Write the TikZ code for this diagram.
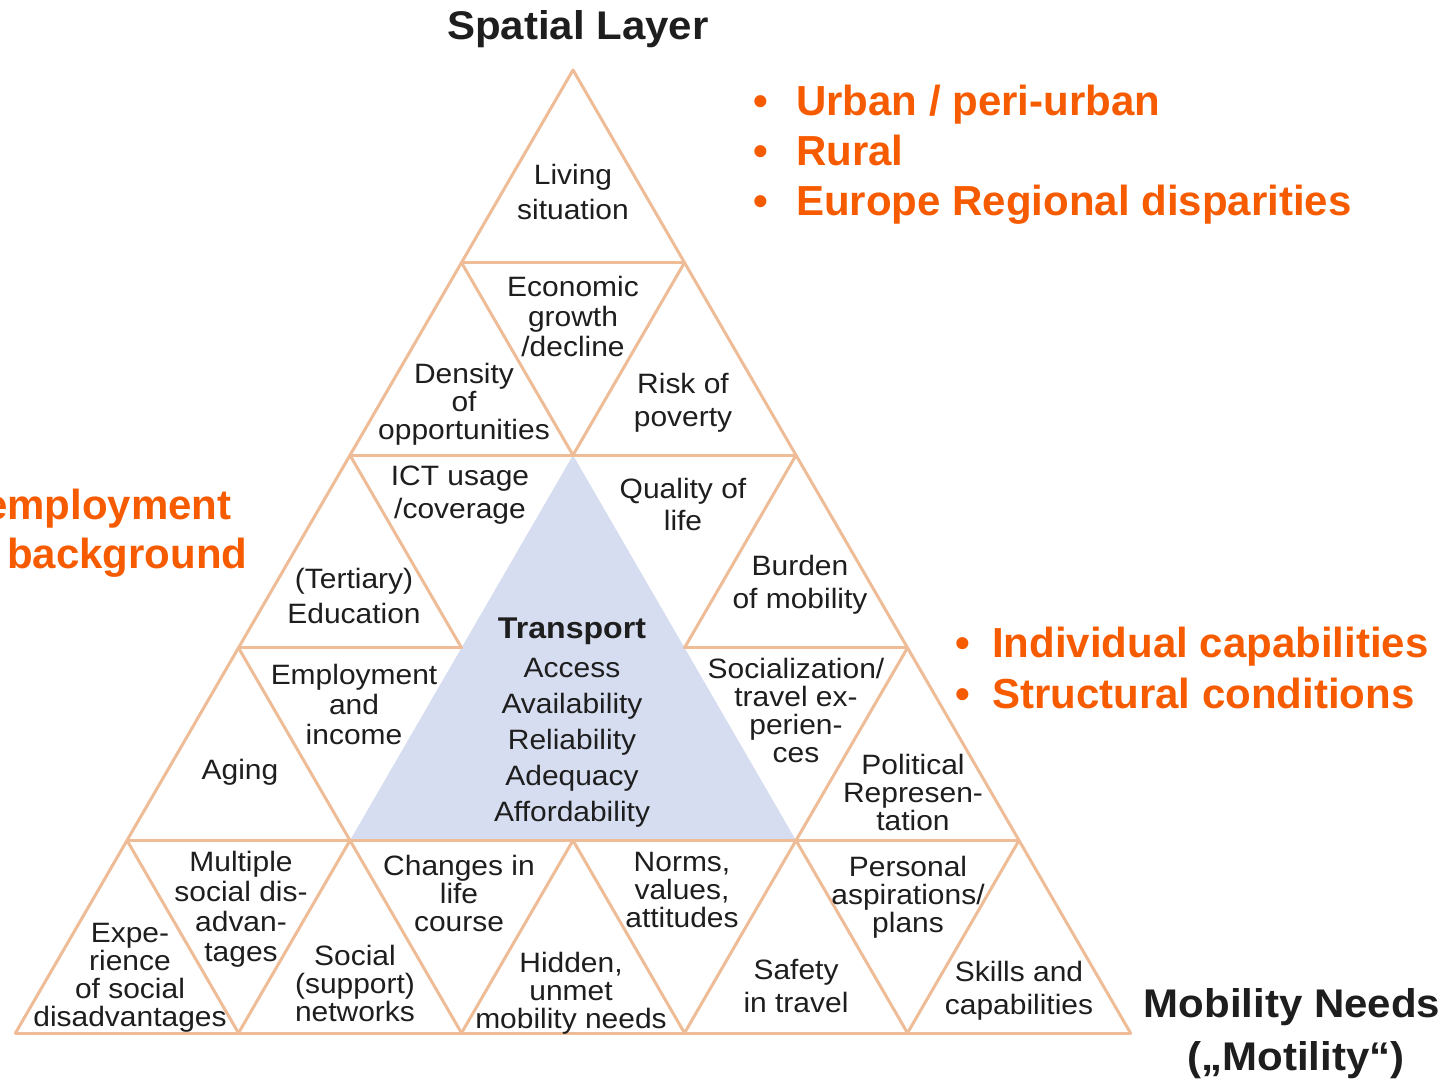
\documentclass[tikz,border=0pt]{standalone}
\usepackage{fontspec}
\setmainfont{Liberation Sans}
\newfontfamily\lfont[FakeStretch=1.07]{Liberation Sans}
\newfontfamily\tfont[FakeStretch=1.05]{Liberation Sans}
\definecolor{lc}{RGB}{238,188,150}
\definecolor{tb}{RGB}{214,221,240}
\definecolor{og}{RGB}{247,91,0}
\definecolor{tx}{RGB}{30,30,30}
\begin{document}
\begin{tikzpicture}[x=1pt,y=-1pt,
  lab/.style={align=center,inner sep=0pt,text=tx,font={\lfont\fontsize{28}{#1}\selectfont},execute at begin node=\strut,execute at end node=\strut,yshift=-3pt},
  lab/.default=30,
  gridline/.style={draw=lc,line width=3pt,line cap=round,line join=round},
  ttl/.style={inner sep=0pt,anchor=base,text=tx,font={\tfont\bfseries\fontsize{40}{48}\selectfont}},
  bul/.style={inner sep=0pt,anchor=base west,text=og,font={\bfseries\fontsize{42}{50}\selectfont}},
]
\useasboundingbox (0,0) rectangle (1455,1081);
\clip (0,0) rectangle (1455,1081);
\fill[white] (0,0) rectangle (1455,1081);

% lattice vertices
\foreach \r in {0,...,5}{
  \foreach \i in {0,...,\r}{
    \coordinate (p\r-\i) at ({573+111.5*(2*\i-\r)},{70+192.6*\r});
  }
}

% central transport triangle
\fill[tb] (p2-1) -- (p4-1) -- (p4-3) -- cycle;

% horizontal lines
\draw[gridline] (p1-0) -- (p1-1);
\draw[gridline] (p2-0) -- (p2-2);
\draw[gridline] (p3-0) -- (p3-1);
\draw[gridline] (p3-2) -- (p3-3);
\draw[gridline] (p4-0) -- (p4-4);
\draw[gridline] (p5-0) -- (p5-5);
% "/" lines
\draw[gridline] (p0-0) -- (p5-0);
\draw[gridline] (p1-1) -- (p2-1);
\draw[gridline] (p4-1) -- (p5-1);
\draw[gridline] (p2-2) -- (p3-2);
\draw[gridline] (p4-2) -- (p5-2);
\draw[gridline] (p3-3) -- (p5-3);
\draw[gridline] (p4-4) -- (p5-4);
% "\" lines
\draw[gridline] (p0-0) -- (p5-5);
\draw[gridline] (p1-0) -- (p2-1);
\draw[gridline] (p4-3) -- (p5-4);
\draw[gridline] (p2-0) -- (p3-1);
\draw[gridline] (p4-2) -- (p5-3);
\draw[gridline] (p3-0) -- (p5-2);
\draw[gridline] (p4-0) -- (p5-1);

% labels in triangles
\node[lab=35] (living) at (573,194) {Living\\situation};
\node[lab=30] (econ) at (573,318) {Economic\\growth\\/decline};
\node[lab=28] (density) at (464,403) {Density\\of\\opportunities};
\node[lab=33] (risk) at (683,402) {Risk of\\poverty};
\node[lab=33] (ict) at (460,494) {ICT usage\\/coverage};
\node[lab=32] (quality) at (683,506) {Quality of\\life};
\node[lab=35] (tertiary) at (354,598) {(Tertiary)\\Education};
\node[lab=33] (burden) at (800,584) {Burden\\of mobility};
\node[lab=30,font={\lfont\bfseries\fontsize{30}{30}\selectfont}] (transport) at (572,629) {Transport};
\node[lab=36] (tlist) at (572,742) {Access\\Availability\\Reliability\\Adequacy\\Affordability};
\node[lab=30] (employ) at (354,706) {Employment\\and\\income};
\node[lab=30] (aging) at (240,770) {Aging};
\node[lab=28] (social) at (796,712) {Socialization/\\travel ex-\\perien-\\ces};
\node[lab=28] (political) at (913,794) {Political\\Represen-\\tation};
\node[lab=30] (multiple) at (241,908) {Multiple\\social dis-\\advan-\\tages};
\node[lab=28] (experience) at (130,976) {Expe-\\rience\\of social\\disadvantages};
\node[lab=28] (network) at (355,985) {Social\\(support)\\networks};
\node[lab=28] (changes) at (459,895) {Changes in\\life\\course};
\node[lab=28] (hidden) at (571,992) {Hidden,\\unmet\\mobility needs};
\node[lab=28] (norms) at (682,891) {Norms,\\values,\\attitudes};
\node[lab=33] (safety) at (796,988) {Safety\\in travel};
\node[lab=28] (personal) at (908,896) {Personal\\aspirations/\\plans};
\node[lab=33] (skills) at (1019,990) {Skills and\\capabilities};

% titles
\node[ttl] (spatial) at (578,40) {Spatial Layer};
\node[ttl] (mobility) at (1292,1017) {Mobility Needs};
\node[ttl] (motility) at (1296,1070) {(„Motility“)};

% orange bullet texts
\node[bul] (b1) at (753,115) {\makebox[43pt][l]{•}Urban / peri-urban};
\node[bul] (b2) at (753,165) {\makebox[43pt][l]{•}Rural};
\node[bul] (b3) at (753,215) {\makebox[43pt][l]{•}Europe Regional disparities};
\node[bul] (b4) at (955,657) {\makebox[37pt][l]{•}Individual capabilities};
\node[bul] (b5) at (955,708) {\makebox[37pt][l]{•}Structural conditions};
\node[bul] (emp) at (-16,519) {employment};
\node[bul] (bg) at (7,568) {background};
\end{tikzpicture}
\end{document}
